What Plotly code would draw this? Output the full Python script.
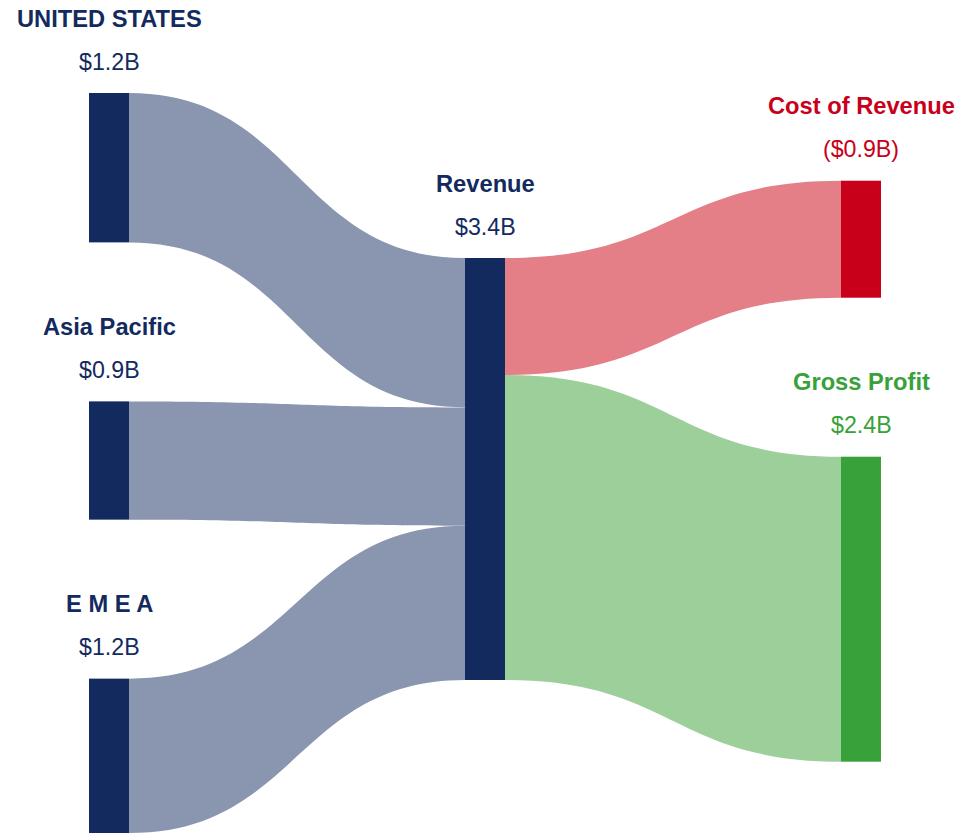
import plotly.graph_objects as go

# ---- data ----
regions = ["UNITED STATES", "Asia Pacific", "E M E A"]
region_values = [1.20, 0.95, 1.24]
region_labels = ["$1.2B", "$0.9B", "$1.2B"]
center_name = "Revenue"
center_label = "$3.4B"
outputs = ["Cost of Revenue", "Gross Profit"]
output_values = [0.94, 2.45]
output_labels = ["($0.9B)", "$2.4B"]

# ---- style ----
NAVY = "#132A5E"
NAVY_LINK = "#8A96B0"
RED = "#C8001A"
RED_LINK = "#E47F87"
GREEN = "#38A13A"
GREEN_LINK = "#9DCF9B"
FONT = "Arial, Liberation Sans, sans-serif"

W, H = 959, 835
PW, PH = 792, 740
ML, MT = 89, 93
MR = W - ML - PW
MB = H - MT - PH
THICK = 40
PAD = 159

ky = (PH - PAD * (len(regions) - 1)) / sum(region_values)

labels = regions + [center_name] + outputs
n_reg = len(regions)
rev_idx = n_reg
out_idx = [n_reg + 1 + i for i in range(len(outputs))]

# node layout (computed from values)
xs, ys, tops = [], [], []
top = 0.0
for v in region_values:
    h = v * ky
    xs.append(THICK / 2 / PW)
    ys.append((top + h / 2) / PH)
    tops.append(top)
    top += h + PAD
rev_top = 165.0
rev_h = sum(region_values) * ky
xs.append(0.5)
ys.append((rev_top + rev_h / 2) / PH)
tops.append(rev_top)
top = 87.7
for v in output_values:
    h = v * ky
    xs.append(1 - THICK / 2 / PW)
    ys.append((top + h / 2) / PH)
    tops.append(top)
    top += h + PAD

node_colors = [NAVY] * n_reg + [NAVY, RED, GREEN]

sources = list(range(n_reg)) + [rev_idx] * len(outputs)
targets = [rev_idx] * n_reg + out_idx
values = region_values + output_values
link_colors = [NAVY_LINK] * n_reg + [RED_LINK, GREEN_LINK]

fig = go.Figure(go.Sankey(
    arrangement="fixed",
    node=dict(
        label=[""] * len(labels),
        customdata=labels,
        x=xs, y=ys,
        pad=PAD,
        thickness=THICK,
        color=node_colors,
        line=dict(width=0),
        hovertemplate="%{customdata}<extra></extra>",
    ),
    link=dict(source=sources, target=targets, value=values, color=link_colors,
              line=dict(width=0)),
))

names_all = labels
vals_all = region_labels + [center_label] + output_labels
text_colors = [NAVY] * n_reg + [NAVY, RED, GREEN]

annotations = []
for i, (nm, vl) in enumerate(zip(names_all, vals_all)):
    py = 1 - tops[i] / PH
    annotations.append(dict(
        x=xs[i], y=py, xref="paper", yref="paper",
        text="<b>%s</b>" % nm, showarrow=False,
        xanchor="center", yanchor="bottom", yshift=59.5,
        font=dict(family=FONT, size=23.7, color=text_colors[i]),
    ))
    annotations.append(dict(
        x=xs[i], y=py, xref="paper", yref="paper",
        text=vl, showarrow=False,
        xanchor="center", yanchor="bottom", yshift=16.5,
        font=dict(family=FONT, size=23.2, color=text_colors[i]),
    ))

fig.update_layout(
    width=W, height=H,
    margin=dict(l=ML, r=MR, t=MT, b=MB),
    paper_bgcolor="white",
    plot_bgcolor="white",
    font=dict(family=FONT),
    annotations=annotations,
)

fig.write_html(
    "out.html",
    config={"displayModeBar": False},
    post_script="document.body.style.margin='0';"
                "document.documentElement.style.overflow='hidden';",
)
